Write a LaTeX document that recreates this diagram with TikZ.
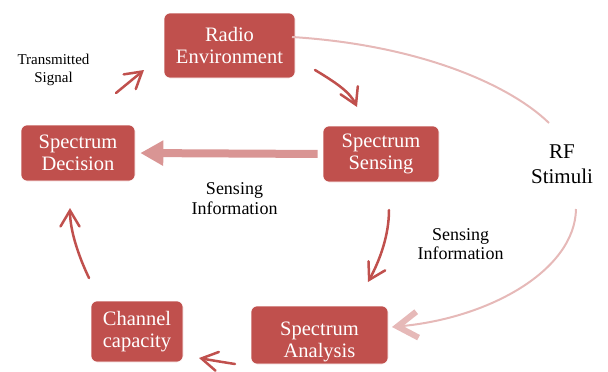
\documentclass[tikz,border=0pt]{standalone}
\usepackage{fontspec}
\setmainfont{Liberation Serif}
\usetikzlibrary{arrows.meta}
\definecolor{boxred}{HTML}{C0504D}
\definecolor{thickpink}{HTML}{D99594}
\definecolor{lightpink}{HTML}{E6B9B8}
\begin{document}
\begin{tikzpicture}[x=1pt,y=-1pt,
  box/.style={fill=boxred, draw=white, line width=0.6pt, rounded corners=6pt,
    text=white, align=center, font=\fontsize{20.5}{22}\selectfont, inner sep=0pt},
  lbl/.style={text=black, align=center, inner sep=0pt},
  flow/.style={draw=boxred, line width=2.5pt, line cap=round,
    -{Straight Barb[length=16pt,width=19pt,line cap=round]}},
  thickarrow/.style={draw=thickpink, line width=8pt,
    -{Triangle[length=23pt,width=24pt]}},
  rfline/.style={draw=lightpink, line width=2pt},
]
\useasboundingbox (0,0) rectangle (608,372);
% boxes
\node[box, minimum width=131pt, minimum height=65pt] (env) at (229.5,45.5) {Radio\\Environment};
\node[box, minimum width=114pt, minimum height=56pt] (decision) at (78,153) {Spectrum\\Decision};
\node[box, minimum width=116pt, minimum height=56pt] (sensing) at (381,154) {Spectrum\\Sensing};
\node[box, minimum width=92pt, minimum height=61pt] (channel) at (137,331.5) {Channel\\capacity};
\node[box, minimum width=137pt, minimum height=58pt] (analysis) at (319.5,335) {};
\node[box, fill=none, draw=none] (antext) at (319.5,342) {Spectrum\\Analysis};
% labels
\node[lbl, font=\fontsize{15}{18}\selectfont] (tslbl) at (53.5,69.5) {Transmitted\\Signal};
\node[lbl, font=\fontsize{18}{20}\selectfont] (si1) at (234.5,199) {Sensing\\Information};
\node[lbl, font=\fontsize{18}{19}\selectfont] (si2) at (460.5,243.7) {Sensing\\Information};
\node[lbl, font=\fontsize{21}{25}\selectfont] (rf) at (562,164.4) {RF\\Stimuli};
% free ends
\coordinate (ts1) at (116,93);
\coordinate (ts2) at (144,70);
\coordinate (es1) at (315,70);
\coordinate (es2) at (357,107);
\coordinate (sa1) at (389,210);
\coordinate (sa2) at (368,282);
\coordinate (ac1) at (235,364);
\coordinate (ac2) at (199,358);
\coordinate (cd1) at (89,278);
\coordinate (cd2) at (70,208);
\coordinate (rfa) at (292,37);
\coordinate (rfb) at (549,123);
\coordinate (rfc) at (576,209);
\coordinate (rfd) at (392,327);
% connectors
\draw[thickarrow, shorten <=5pt, shorten >=5pt] (sensing.west) -- (decision.east);
\draw[flow] (ts1) -- (ts2);
\draw[flow] (es1) .. controls (335,82) and (350,92) .. (es2);
\draw[flow] (sa1) .. controls (389,235) and (380,260) .. (sa2);
\draw[flow] (ac1) .. controls (222,362) and (210,360) .. (ac2);
\draw[flow] (cd1) .. controls (78,255) and (70,230) .. (cd2);
\draw[rfline] (rfa) .. controls (420,45) and (510,85) .. (rfb);
\draw[rfline, -{Straight Barb[length=20pt,width=26pt,line width=6pt]}]
  (rfc) .. controls (575,270) and (490,318) .. (rfd);
\end{tikzpicture}
\end{document}
